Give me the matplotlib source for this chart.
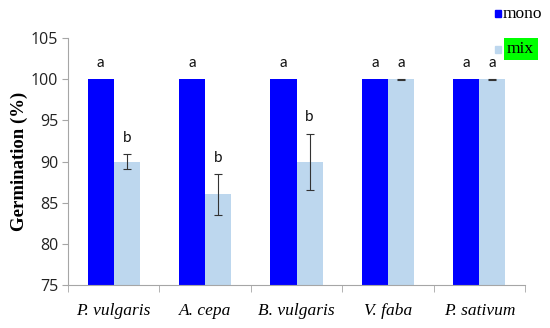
import numpy as np
import matplotlib.pyplot as plt

# data
species = ["P. vulgaris", "A. cepa", "B. vulgaris", "V. faba", "P. sativum"]
mono = [100, 100, 100, 100, 100]
mix = [90, 86, 90, 100, 100]
mix_err = [0.9, 2.5, 3.4, 0.05, 0.05]
mono_letters = ["a", "a", "a", "a", "a"]
mix_letters = ["b", "b", "b", "a", "a"]

monocolor = '#0000FF'
mixcolor = '#BDD7EE'
axisgray = '#A6A6A6'

fig = plt.figure(figsize=(5.5, 3.28), dpi=100)
ax = fig.add_axes([0.1236, 0.131, 0.831, 0.753])

x = np.arange(len(species))
w = 0.285
ax.bar(x - w/2, mono, w, color=monocolor)
ax.bar(x + w/2, mix, w, color=mixcolor)
ax.errorbar(x + w/2, mix, yerr=mix_err, fmt='none', ecolor='#333333',
            elinewidth=0.8, capsize=3, capthick=0.8)

for i in range(len(species)):
    ax.text(x[i] - w/2, mono[i] + 1.1, mono_letters[i], ha='center', va='bottom',
            fontsize=11, family='Lato', color='#111111')
    ax.text(x[i] + w/2, mix[i] + mix_err[i] + 1.1, mix_letters[i], ha='center', va='bottom',
            fontsize=11, family='Lato', color='#111111')

ax.set_ylim(75, 105)
ax.set_xlim(-0.5, len(species) - 0.5)
ax.set_yticks(np.arange(75, 106, 5))
ax.tick_params(axis='y', labelsize=11.5, length=4, color=axisgray, pad=3)
for lab in ax.get_yticklabels():
    lab.set_family('Open Sans')
    lab.set_color('#222222')

ax.set_xticks(x)
ax.set_xticklabels(species, family='Liberation Serif', style='italic', fontsize=12.5)
ax.tick_params(axis='x', length=0, pad=13)
ax.set_xticks(np.arange(-0.5, len(species), 1), minor=True)
ax.tick_params(axis='x', which='minor', length=5, color=axisgray)

ax.set_ylabel("Germination (%)", family='Liberation Serif', fontweight='bold',
              fontsize=13.5, labelpad=2)

for s in ['top', 'right']:
    ax.spines[s].set_visible(False)
for s in ['left', 'bottom']:
    ax.spines[s].set_color(axisgray)
    ax.spines[s].set_linewidth(0.8)

# legend drawn by hand as in the original
fig.patches.append(plt.Rectangle((495/550, 1 - 17/328), 6/550, 7/328, color=monocolor,
                                 transform=fig.transFigure))
fig.text(503/550, 1 - 14/328, "mono", family='Liberation Serif', fontsize=12.5, va='center')
fig.patches.append(plt.Rectangle((495/550, 1 - 53/328), 6/550, 7/328, color=mixcolor,
                                 transform=fig.transFigure))
fig.text(507/550, 1 - 49/328, "mix", family='Liberation Serif', fontsize=12.5, va='center',
         bbox=dict(facecolor='#00FF00', edgecolor='none', pad=2.5))

fig.savefig("out.png", dpi=100)
